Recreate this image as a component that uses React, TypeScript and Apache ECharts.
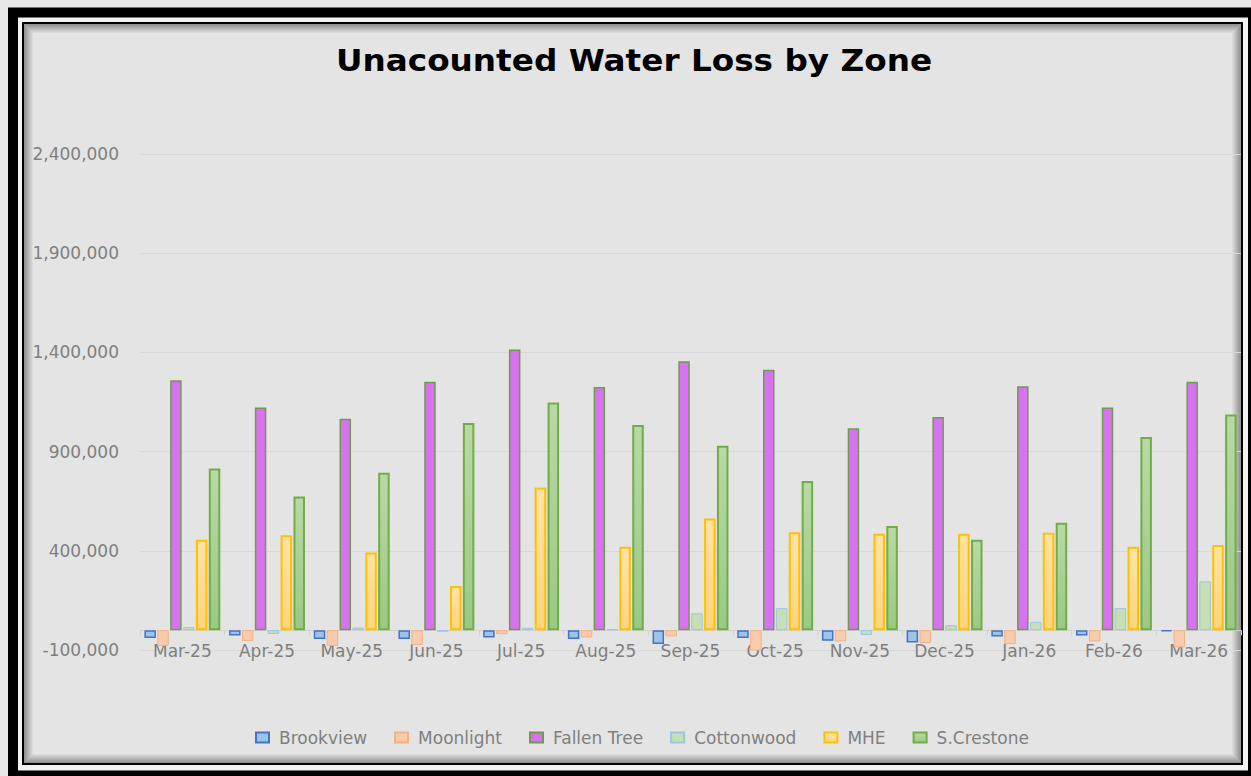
import React, { useEffect, useRef } from "react";
import * as echarts from "echarts";

const categories = ["Mar-25", "Apr-25", "May-25", "Jun-25", "Jul-25", "Aug-25", "Sep-25", "Oct-25", "Nov-25", "Dec-25", "Jan-26", "Feb-26", "Mar-26"];
const brookview = [-40000, -27000, -45000, -45000, -37000, -45000, -70000, -40000, -54000, -62000, -32000, -27000, -6000];
const moonlight = [-79000, -54000, -79000, -75000, -20000, -37000, -32000, -105000, -57000, -65000, -70000, -57000, -86000];
const fallenTree = [1260000, 1122000, 1066000, 1252000, 1415000, 1225000, 1355000, 1313000, 1018000, 1075000, 1230000, 1122000, 1252000];
const cottonwood = [15000, -19000, 13000, -8000, 12000, 5000, 85000, 111000, -24000, 25000, 42000, 111000, 246000];
const mhe = [456000, 478000, 392000, 223000, 719000, 420000, 563000, 494000, 486000, 486000, 491000, 420000, 429000];
const sCrestone = [815000, 674000, 793000, 1044000, 1147000, 1034000, 930000, 752000, 525000, 456000, 541000, 974000, 1087000];

const FONT = "DejaVu Sans";

function grad(top: string, bottom: string) {
  return new echarts.graphic.LinearGradient(0, 0, 0, 1, [
    { offset: 0, color: top },
    { offset: 1, color: bottom },
  ]);
}

export default function App() {
  const ref = useRef<HTMLDivElement>(null);
  useEffect(() => {
    if (!ref.current) return;
    const chart = echarts.init(ref.current, null, { renderer: "svg" });

    const shadowRects: any[] = [];
    for (let i = 0; i < 9; i++) {
      const a = 0.36 * (1 - i / 9);
      shadowRects.push({
        type: "rect",
        silent: true,
        z: -5,
        shape: { x: 24 + i + 0.5, y: 24 + i + 0.5, width: 1217 - 2 * i - 1, height: 739 - 2 * i - 1 },
        style: { fill: "none", stroke: `rgba(0,0,0,${a.toFixed(3)})`, lineWidth: 1 },
      });
    }

    const mk = (name: string, data: number[], color: any, border: string, bw: number) => ({
      name,
      type: "bar",
      data,
      barWidth: 11.5,
      barGap: "12%",
      itemStyle: { color, borderColor: border, borderWidth: bw },
    });

    chart.setOption({
      animation: false,
      backgroundColor: "#e7e7e7",
      textStyle: { fontFamily: FONT },
      grid: { left: 140, right: 10, top: 154, bottom: 126, containLabel: false },
      graphic: [
        {
          type: "rect",
          silent: true,
          z: -10,
          shape: { x: 13, y: 12.5, width: 1240, height: 763 },
          style: { fill: "#f2f2f2", stroke: "#000", lineWidth: 10 },
        },
        {
          type: "rect",
          silent: true,
          z: -9,
          shape: { x: 23, y: 23, width: 1219, height: 741 },
          style: { fill: "#e4e4e4", stroke: "#000", lineWidth: 2 },
        },
        ...shadowRects,
        {
          type: "text",
          x: 634,
          y: 60,
          scaleX: 1.09,
          style: {
            text: "Unacounted Water Loss by Zone",
            fontFamily: FONT,
            fontWeight: "bold",
            fontSize: 30,
            fill: "#000",
            align: "center",
            verticalAlign: "middle",
          },
        },
      ],
      legend: {
        left: 250,
        top: 724,
        icon: "rect",
        itemWidth: 13,
        itemHeight: 10,
        itemGap: 27,
        textStyle: { fontFamily: FONT, fontSize: 17, color: "#7f7f7f", padding: [0, 0, 0, 5] },
        data: ["Brookview", "Moonlight", "Fallen Tree", "Cottonwood", "MHE", "S.Crestone"],
      },
      xAxis: {
        type: "category",
        data: categories,
        axisLine: { show: true, onZero: true, lineStyle: { color: "#d2d2d2", width: 1 } },
        axisTick: { show: true, length: 5, lineStyle: { color: "#d2d2d2" } },
        axisLabel: { fontFamily: FONT, fontSize: 17, color: "#7f7f7f", margin: -8 },
        splitLine: { show: false },
      },
      yAxis: {
        type: "value",
        min: -100000,
        max: 2400000,
        interval: 500000,
        axisLine: { show: false },
        axisTick: { show: false },
        axisLabel: {
          fontFamily: FONT,
          fontSize: 17,
          color: "#7f7f7f",
          margin: 21,
          formatter: (v: number) => v.toLocaleString("en-US"),
        },
        splitLine: { lineStyle: { color: "#d8d8d8", width: 1 } },
      },
      series: [
        mk("Brookview", brookview, "#9dc3e6", "#4472c4", 1.5),
        mk("Moonlight", moonlight, "#f8cbad", "#f4b183", 1),
        mk("Fallen Tree", fallenTree, "#d772f0", "#6f9a50", 1.5),
        mk("Cottonwood", cottonwood, "#c5e0b4", "#9dc3e6", 1),
        mk("MHE", mhe, grad("#ffe3a6", "#ffd47e"), "#ffc000", 2),
        mk("S.Crestone", sCrestone, grad("#b9d9a5", "#9bc985"), "#70ad47", 2),
      ],
    });
    return () => chart.dispose();
  }, []);
  return (
    <div
      ref={ref}
      style={{ position: "fixed", left: 0, top: 0, width: 1251, height: 776 }}
    />
  );
}
